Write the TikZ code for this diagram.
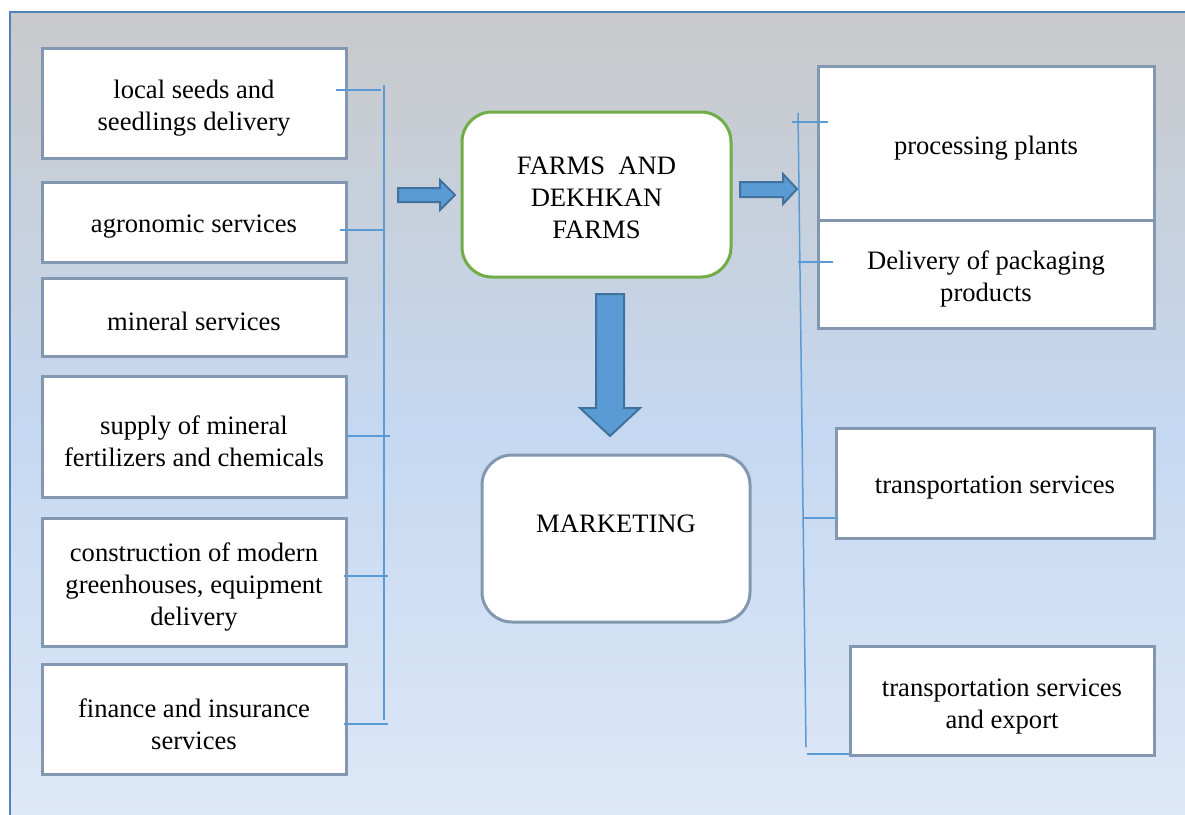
\documentclass[tikz,border=0pt]{standalone}
\usepackage{fontspec}
\setmainfont{Liberation Serif}
\definecolor{bgtop}{RGB}{201,201,202}
\definecolor{bgmid}{RGB}{197,216,241}
\definecolor{bgbot}{RGB}{222,232,247}
\definecolor{framecol}{RGB}{79,129,189}
\definecolor{boxline}{RGB}{132,151,176}
\definecolor{farmgreen}{RGB}{112,173,71}
\definecolor{arrfill}{RGB}{91,155,213}
\definecolor{arrline}{RGB}{65,113,156}
\definecolor{tickcol}{RGB}{91,155,213}
\begin{document}
\begin{tikzpicture}[x=1pt,y=-1pt,
  txt/.style={font=\fontsize{26.6}{32}\selectfont, align=center, inner sep=0pt},
  box/.style={draw=boxline, line width=3pt, fill=white, rectangle, inner sep=0pt},
  rbox/.style={box, rounded corners=30pt},
  gbox/.style={rbox, draw=farmgreen},
  tickline/.style={draw=tickcol, line width=1.5pt},
  blockarrow/.style={fill=arrfill, draw=arrline, line width=2pt, line join=miter}]
\useasboundingbox (0,0) rectangle (1185,814);
% background
\fill[top color=bgtop, bottom color=bgmid] (10,12) rectangle (1190,431);
\fill[top color=bgmid, bottom color=bgbot] (10,430) rectangle (1190,820);
\draw[framecol, line width=2pt] (10,820) -- (10,12) -- (1190,12);

% left boxes
\node[box, minimum width=304pt, minimum height=110pt] (b1) at (194,103) {};
\node[box, minimum width=304pt, minimum height=80pt] (b2) at (194,222) {};
\node[box, minimum width=304pt, minimum height=78pt] (b3) at (194,317) {};
\node[box, minimum width=304pt, minimum height=121pt] (b4) at (194,436.5) {};
\node[box, minimum width=304pt, minimum height=128pt] (b5) at (194,582) {};
\node[box, minimum width=304pt, minimum height=110pt] (b6) at (194,719) {};
\node[txt] (t1) at ([yshift=-5pt]b1.center) {local seeds and\\seedlings delivery};
\node[txt] (t2) at ([yshift=-5pt]b2.center) {agronomic services};
\node[txt] (t3) at ([yshift=-4pt]b3.center) {mineral services};
\node[txt] (t4) at ([yshift=-5pt]b4.center) {supply of mineral\\fertilizers and chemicals};
\node[txt] (t5) at ([yshift=-5pt]b5.center) {construction of modern\\greenhouses, equipment\\delivery};
\node[txt] (t6) at ([yshift=-5pt]b6.center) {finance and insurance\\services};

% left bracket
\coordinate (lt) at (384,85);
\coordinate (lb) at (384,720);
\draw[tickline] (lt) -- (lb);
\coordinate (l1a) at (336,90);  \coordinate (l1b) at (381,90);
\coordinate (l2a) at (340,230); \coordinate (l2b) at (384,230);
\coordinate (l4a) at (346,436); \coordinate (l4b) at (390,436);
\coordinate (l5a) at (344,576); \coordinate (l5b) at (388,576);
\coordinate (l6a) at (344,724); \coordinate (l6b) at (388,724);
\draw[tickline] (l1a) -- (l1b);
\draw[tickline] (l2a) -- (l2b);
\draw[tickline] (l4a) -- (l4b);
\draw[tickline] (l5a) -- (l5b);
\draw[tickline] (l6a) -- (l6b);

% centre
\node[gbox, minimum width=269pt, minimum height=165pt] (farms) at (596.5,194.5) {};
\node[txt] (farmstxt) at ([yshift=-3pt]farms.center) {FARMS~ AND\\DEKHKAN\\FARMS};
\node[rbox, minimum width=268pt, minimum height=167pt] (mkt) at (616,538.5) {};
\node[txt] (mkttxt) at (616,524) {MARKETING};

% block arrows
\filldraw[blockarrow] (398,188) -- (440,188) -- (440,180) -- (455,195) -- (440,210) -- (440,202) -- (398,202) -- cycle;
\filldraw[blockarrow] (740,182) -- (783,182) -- (783,174) -- (797,189) -- (783,204) -- (783,197) -- (740,197) -- cycle;
\filldraw[blockarrow] (596,294) -- (624,294) -- (624,408) -- (640,408) -- (610,436) -- (580,408) -- (596,408) -- cycle;

% right boxes
\node[box, minimum width=336pt, minimum height=154pt] (proc) at (986,143) {};
\node[box, minimum width=336pt, minimum height=108pt] (pack) at (986,274) {};
\node[box, minimum width=318pt, minimum height=110pt] (trans) at (995,483) {};
\node[box, minimum width=304pt, minimum height=109pt] (exp) at (1002,700.5) {};
\node[txt] (proctxt) at ([yshift=-5pt]proc.center) {processing plants};
\node[txt] (packtxt) at ([yshift=-5pt]pack.center) {Delivery of packaging\\products};
\node[txt] (transtxt) at ([yshift=-5pt]trans.center) {transportation services};
\node[txt] (exptxt) at ([yshift=-6pt]exp.center) {transportation services\\and export};

% right bracket
\coordinate (rt) at (798,113);
\coordinate (rb) at (806,747);
\draw[tickline] (rt) -- (rb);
\coordinate (r1a) at (792,122); \coordinate (r1b) at (828,122);
\coordinate (r2a) at (798,262); \coordinate (r2b) at (833,262);
\coordinate (r3a) at (803,518); \coordinate (r3b) at (838,518);
\coordinate (r4a) at (807,754);
\draw[tickline] (r1a) -- (r1b);
\draw[tickline] (r2a) -- (r2b);
\draw[tickline] (r3a) -- (r3b);
\draw[tickline] (r4a) -- (exp.west |- r4a);
\end{tikzpicture}
\end{document}
